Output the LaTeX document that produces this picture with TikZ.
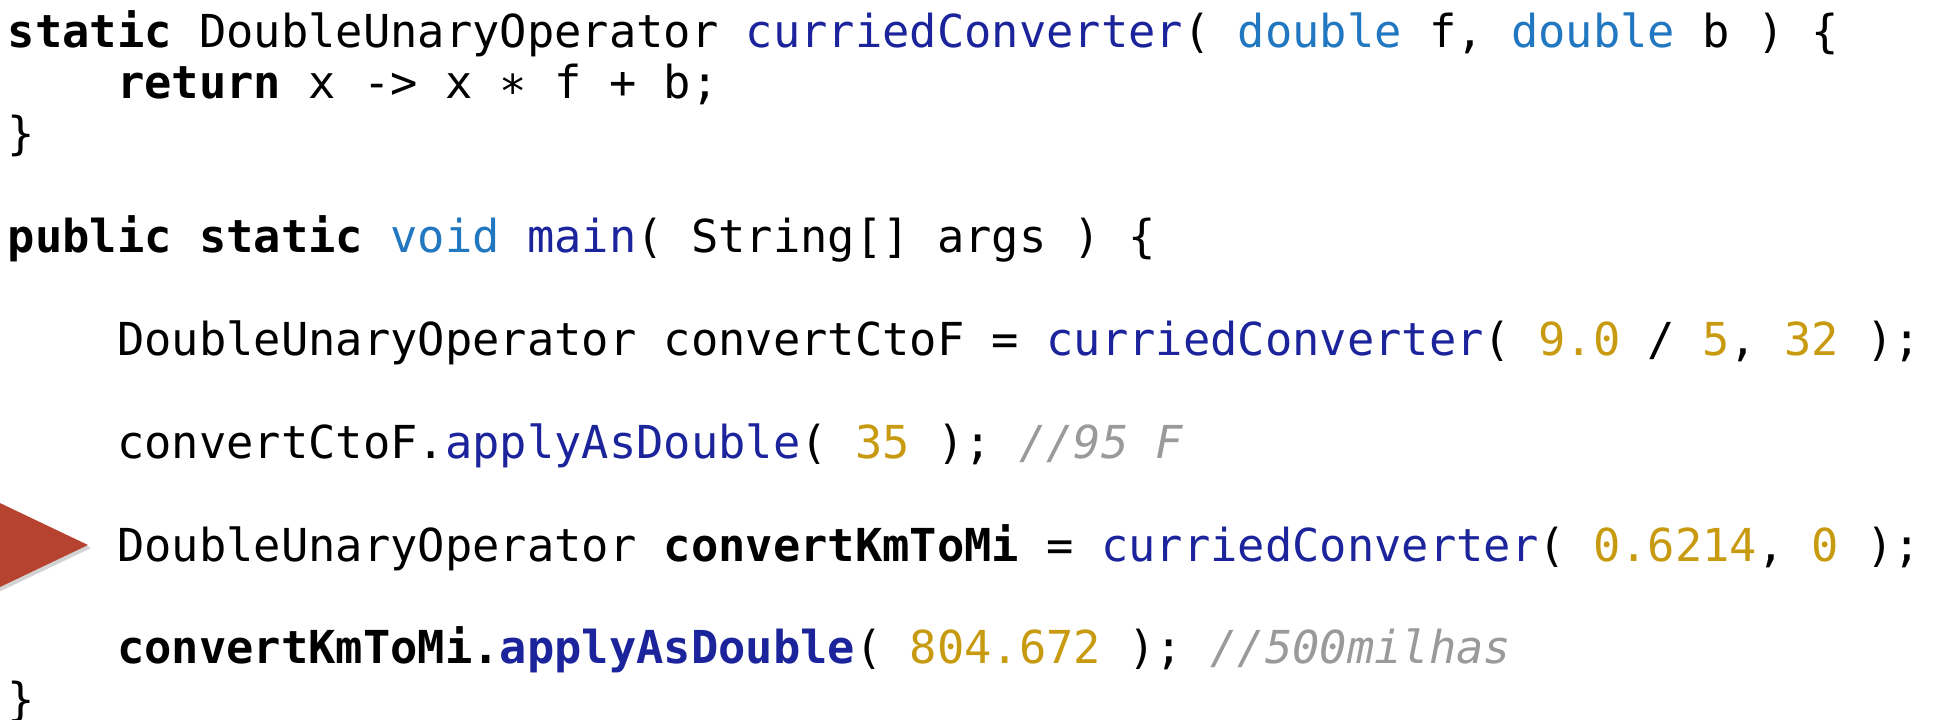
\documentclass[tikz,border=0pt]{standalone}
\usepackage{fontspec}
\usepackage{xcolor}
\usepackage{tikz}
\usetikzlibrary{shadows}
\newfontfamily\codefont{DejaVu Sans Mono}
\definecolor{MethodColor}{HTML}{1C249C}
\definecolor{TypeColor}{HTML}{2177C0}
\definecolor{NumberColor}{HTML}{C79A10}
\definecolor{CommentColor}{HTML}{9A9A9A}
\definecolor{PointerColor}{HTML}{B5432F}
\newcommand{\kw}[1]{\textbf{#1}}
\newcommand{\mth}[1]{\textcolor{MethodColor}{#1}}
\newcommand{\typ}[1]{\textcolor{TypeColor}{#1}}
\newcommand{\numb}[1]{\textcolor{NumberColor}{#1}}
\newcommand{\cmnt}[1]{\textcolor{CommentColor}{\itshape #1}}
\newcommand{\indentx}{117.3}

\begin{document}
\begin{tikzpicture}[
    x=0.5pt, y=-0.5pt,
    every node/.style = {anchor=base west, inner sep=0pt, outer sep=0pt,
      font=\codefont\fontsize{22.7}{25.7}\selectfont\frenchspacing},
    pointer/.style = {fill=PointerColor, draw=none,
      drop shadow={opacity=0.35, shadow xshift=1.5pt, shadow yshift=-1.5pt}},
  ]
  \useasboundingbox (0,0) rectangle (1941,719);
  % ┌───────────────┐
  % │ curriedConverter │
  % └───────────────┘
  \node (line1) at (8,47) {\kw{static} DoubleUnaryOperator \mth{curriedConverter}( \typ{double} f, \typ{double} b ) \{};
  \node (line2) at (\indentx,98.4) {\kw{return} x -> x \raisebox{-0.2em}{*} f + b;};
  \node (line3) at (8,149.8) {\}};
  % ┌──────┐
  % │ main │
  % └──────┘
  \node (line5) at (8,252.6) {\kw{public static} \typ{void} \mth{main}( String[] args ) \{};
  \node (line7) at (\indentx,355.4) {DoubleUnaryOperator convertCtoF = \mth{curriedConverter}( \numb{9.0} / \numb{5}, \numb{32} );};
  \node (line9) at (\indentx,458.2) {convertCtoF.\mth{applyAsDouble}( \numb{35} ); \cmnt{//95 F}};
  \node (line11) at (\indentx,561) {DoubleUnaryOperator \kw{convertKmToMi} = \mth{curriedConverter}( \numb{0.6214}, \numb{0} );};
  \node (line13) at (\indentx,663.8) {\kw{convertKmToMi.\mth{applyAsDouble}}( \numb{804.672} ); \cmnt{//500milhas}};
  \node (line14) at (8,715.2) {\}};
  % Pfeil auf Zeile 11
  \fill[pointer] (-20,493.5) -- (88,545) -- (-20,596.5) -- cycle;
\end{tikzpicture}
\end{document}
